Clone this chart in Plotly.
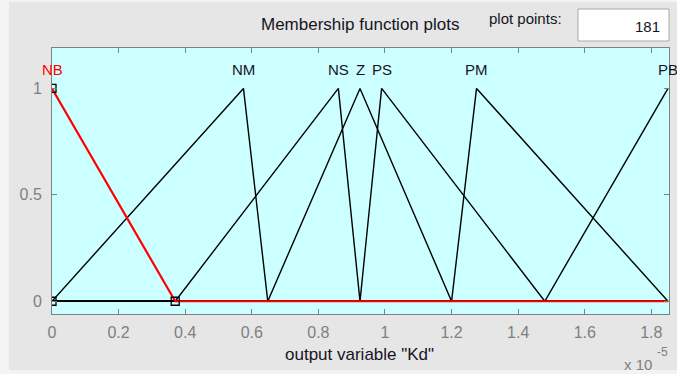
import plotly.graph_objects as go

# Membership functions of output variable "Kd" (trimf parameters, units of 1e-5)
mf_names = ["NB", "NM", "NS", "Z", "PS", "PM", "PB"]
mf_a = [0.0, 0.0, 0.37, 0.648, 0.925, 1.2, 1.48]
mf_b = [0.0, 0.575, 0.86, 0.925, 0.99, 1.275, 1.85]
mf_c = [0.37, 0.648, 0.925, 1.2, 1.48, 1.85, 1.85]
selected = "NB"

x_range = [0.0, 1.85]
x_ticks = [0, 0.2, 0.4, 0.6, 0.8, 1.0, 1.2, 1.4, 1.6, 1.8]
x_ticktext = ["0", "0.2", "0.4", "0.6", "0.8", "1", "1.2", "1.4", "1.6", "1.8"]
y_ticks = [0, 0.5, 1]
y_ticktext = ["0", "0.5", "1"]
plot_points = 181

W, H = 677, 374
L, R, T, B = 52, 8, 48, 60
PW, PH = W - L - R, H - T - B

FONT = "Arial, Liberation Sans, sans-serif"
GRAY = "#808080"
TXT = "#15151f"


def px(x):
    return (x - L) / PW


def py(y):
    return (H - B - y) / PH


def trimf(x, a, b, c):
    if x <= a or x >= c:
        if x == b:
            return 1.0
        return 0.0
    if x <= b:
        return 1.0 if b == a else (x - a) / (b - a)
    return 1.0 if c == b else (c - x) / (c - b)


def mf_polyline(a, b, c):
    lo, hi = x_range
    xs = [lo]
    for v in (a, b, c):
        if lo < v < hi:
            xs.append(v)
    xs.append(hi)
    ys = [trimf(v, a, b, c) for v in xs]
    return xs, ys


fig = go.Figure()

order = [i for i, n in enumerate(mf_names) if n != selected] + \
        [i for i, n in enumerate(mf_names) if n == selected]
for i in order:
    xs, ys = mf_polyline(mf_a[i], mf_b[i], mf_c[i])
    sel = mf_names[i] == selected
    fig.add_trace(go.Scatter(
        x=xs, y=ys, mode="lines",
        line=dict(color="#ff0000" if sel else "#000000", width=2.2 if sel else 1.4),
        hoverinfo="skip", showlegend=False, cliponaxis=True,
    ))

# vertex handles of the selected function
k = mf_names.index(selected)
fig.add_trace(go.Scatter(
    x=[mf_a[k], mf_b[k], mf_c[k]], y=[0, 1, 0], mode="markers",
    marker=dict(symbol="square-open", size=8, color="#000000", line=dict(width=1.3)),
    hoverinfo="skip", showlegend=False, cliponaxis=True,
))

shapes = [
    dict(type="rect", xref="paper", yref="paper", layer="below",
         x0=px(9), x1=px(W + 2), y0=py(370), y1=py(2),
         fillcolor="#e6e6e6", line=dict(width=0)),
    dict(type="rect", xref="paper", yref="paper", layer="below",
         x0=0, x1=1, y0=0, y1=1, fillcolor="#ccffff", line=dict(width=0)),
    dict(type="rect", xref="paper", yref="paper",
         x0=px(578), x1=px(669), y0=py(41), y1=py(9),
         fillcolor="#ffffff", line=dict(color="#a8a8a8", width=1)),
]

annotations = [
    dict(text="Membership function plots", x=px(360), y=py(24), xref="paper", yref="paper",
         showarrow=False, xanchor="center", yanchor="middle",
         font=dict(family=FONT, size=17, color=TXT)),
    dict(text="plot points:", x=px(525), y=py(18), xref="paper", yref="paper",
         showarrow=False, xanchor="center", yanchor="middle",
         font=dict(family=FONT, size=15, color=TXT)),
    dict(text=str(plot_points), x=px(662), y=py(26), xref="paper", yref="paper",
         showarrow=False, xanchor="right", yanchor="middle",
         font=dict(family=FONT, size=15, color=TXT)),
    dict(text='output variable "Kd"', x=px(359), y=py(354), xref="paper", yref="paper",
         showarrow=False, xanchor="center", yanchor="middle",
         font=dict(family=FONT, size=17, color=TXT)),
    dict(text="x 10", x=px(622), y=py(364), xref="paper", yref="paper",
         showarrow=False, xanchor="left", yanchor="middle",
         font=dict(family=FONT, size=15, color=GRAY)),
    dict(text="-5", x=px(655), y=py(352), xref="paper", yref="paper",
         showarrow=False, xanchor="left", yanchor="middle",
         font=dict(family=FONT, size=12, color=GRAY)),
]
for i, name in enumerate(mf_names):
    annotations.append(dict(
        text=name, x=mf_b[i], y=py(69), xref="x", yref="paper",
        showarrow=False, xanchor="center", yanchor="middle",
        font=dict(family=FONT, size=15, color="#ff0000" if name == selected else TXT),
    ))

axis_common = dict(
    showline=True, linecolor=GRAY, linewidth=1, mirror="ticks",
    ticks="inside", ticklen=5, tickcolor=GRAY, tickwidth=1,
    showgrid=False, zeroline=False,
    tickfont=dict(family=FONT, size=16, color=GRAY),
)

fig.update_layout(
    width=W, height=H,
    margin=dict(l=L, r=R, t=T, b=B, pad=0),
    paper_bgcolor="#f3f3f3", plot_bgcolor="#ccffff",
    xaxis=dict(range=[0, 1.853], tickvals=x_ticks, ticktext=x_ticktext,
               ticklabelstandoff=4, **axis_common),
    yaxis=dict(range=[-0.06, 1.19], tickvals=y_ticks, ticktext=y_ticktext,
               ticklabelstandoff=6, **axis_common),
    shapes=shapes, annotations=annotations,
)

fig.write_html("out.html")
